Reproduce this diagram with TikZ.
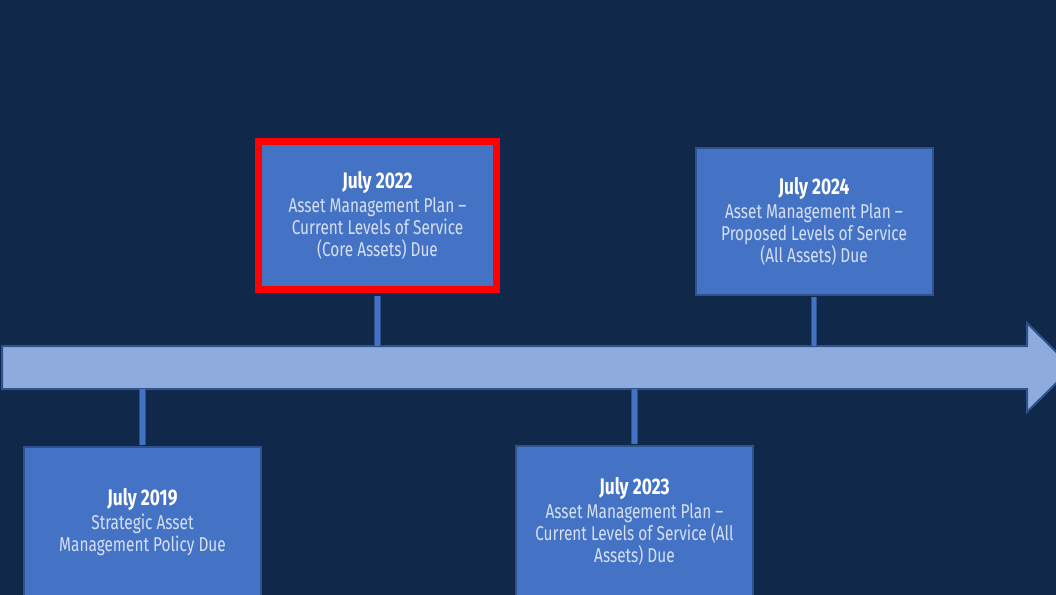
\documentclass[tikz,border=0pt]{standalone}
\usepackage{fontspec}
\setmainfont{Fira Sans}[FakeStretch=0.77]
\usetikzlibrary{positioning}

\definecolor{navy}{HTML}{10294A}
\definecolor{boxblue}{HTML}{4472C4}
\definecolor{boxline}{HTML}{2F528F}
\definecolor{shaftblue}{HTML}{8FAADC}
\definecolor{paletext}{HTML}{D6E0F3}
\definecolor{flagred}{HTML}{FF0000}

\newcommand{\due}[1]{{\fontsize{16.9}{16.5}\selectfont\bfseries\color{white}#1}\\[1.5pt]}

\tikzset{
  milestone/.style={draw=boxline, line width=1.5pt, fill=boxblue,
    minimum width=177.75pt, minimum height=112.5pt, inner sep=0pt,
    align=center, text=paletext,
    font=\fontsize{15}{16.5}\selectfont},
  current/.style={milestone, draw=flagred, line width=5.25pt,
    minimum width=178.5pt, minimum height=111pt},
  stem/.style={draw=boxline, double=boxblue, double distance=3.6pt,
    line width=0.7pt}
}

\begin{document}
\begin{tikzpicture}[x=0.75pt, y=-0.75pt]
  \useasboundingbox (0,0) rectangle (1056,595);
  \fill[navy] (0,0) rectangle (1056,595);

  % ---- timeline arrow ----
  \draw[boxline, line width=1.5pt, fill=shaftblue]
    (2,346) -- (1027,346) -- (1027,323) -- (1072,367.5)
    -- (1027,412) -- (1027,389) -- (2,389) -- cycle;
  \coordinate (shafttop) at (0,346);
  \coordinate (shaftbot) at (0,389);

  % ---- milestones ----
  \node[milestone] (d19) at (142.5,522)
    {\due{July 2019}Strategic Asset\\Management Policy Due};
  \node[current] (d22) at (377.5,215.5)
    {\due{July 2022}Asset Management Plan –\\Current Levels of Service\\(Core Assets) Due};
  \node[milestone] (d23) at (634.5,521)
    {\due{July 2023}Asset Management Plan –\\Current Levels of Service (All\\Assets) Due};
  \node[milestone, minimum height=110.25pt] (d24) at (814,221.5)
    {\due{July 2024}Asset Management Plan –\\Proposed Levels of Service\\(All Assets) Due};

  % ---- stems to the arrow ----
  \draw[stem, shorten <=2.6pt] (d22.south) -- (d22.south |- shafttop);
  \draw[stem, shorten <=0.75pt] (d24.south) -- (d24.south |- shafttop);
  \draw[stem, shorten <=0.75pt] (d19.north) -- (d19.north |- shaftbot);
  \draw[stem, shorten <=0.75pt] (d23.north) -- (d23.north |- shaftbot);
\end{tikzpicture}
\end{document}
